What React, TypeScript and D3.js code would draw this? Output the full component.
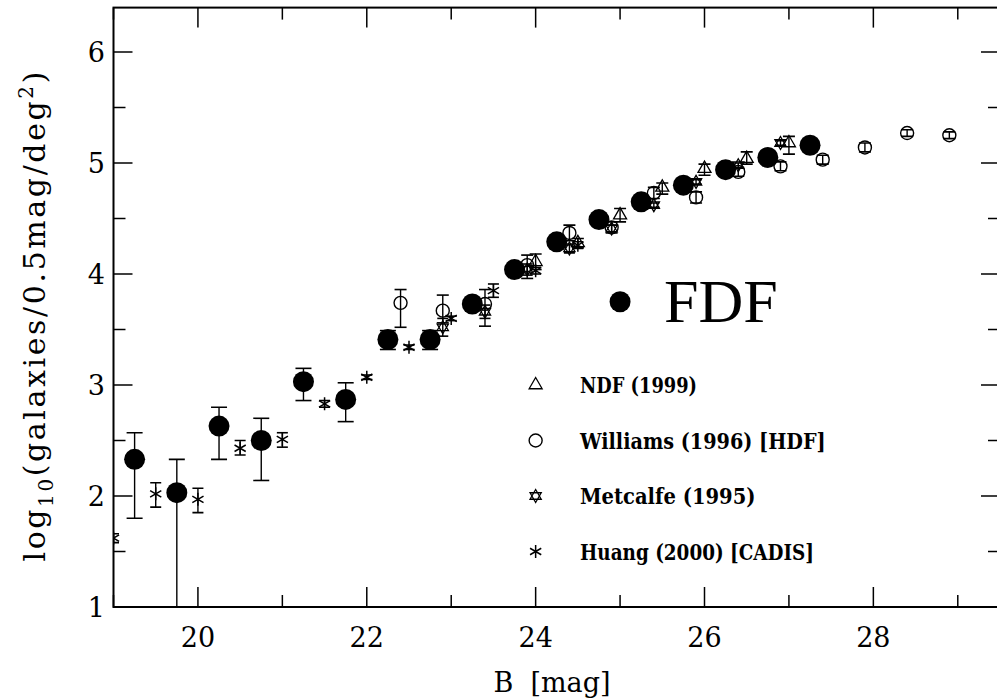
import React from 'react'
import * as d3 from 'd3'

// FDF (filled circles)
const fdfB = [19.25, 19.75, 20.25, 20.75, 21.25, 21.75, 22.25, 22.75, 23.25, 23.75, 24.25, 24.75, 25.25, 25.75, 26.25, 26.75, 27.25]
const fdfLogN = [2.33, 2.03, 2.63, 2.5, 3.03, 2.87, 3.41, 3.41, 3.73, 4.04, 4.29, 4.49, 4.65, 4.8, 4.94, 5.05, 5.16]
const fdfHi = [2.57, 2.33, 2.8, 2.7, 3.15, 3.02, 3.49, 3.49, 3.77, 4.07, 4.31, 4.51, 4.67, 4.82, 4.96, 5.07, 5.18]
const fdfLo = [1.8, 0.5, 2.33, 2.14, 2.86, 2.67, 3.32, 3.32, 3.69, 4.01, 4.27, 4.47, 4.63, 4.78, 4.92, 5.03, 5.14]

// Williams (1996) [HDF]
const wilB = [22.4, 22.9, 23.4, 23.9, 24.4, 24.9, 25.4, 25.9, 26.4, 26.9, 27.4, 27.9, 28.4, 28.9]
const wilLogN = [3.74, 3.67, 3.73, 4.08, 4.37, 4.42, 4.73, 4.69, 4.92, 4.97, 5.03, 5.14, 5.27, 5.25]
const wilHi = [3.86, 3.81, 3.86, 4.17, 4.44, 4.47, 4.78, 4.74, 4.96, 5.01, 5.07, 5.18, 5.3, 5.28]
const wilLo = [3.52, 3.56, 3.53, 3.96, 4.3, 4.37, 4.68, 4.64, 4.88, 4.93, 4.99, 5.1, 5.24, 5.22]

// NDF (1999)
const ndfB = [24.0, 24.5, 25.0, 25.5, 26.0, 26.5, 27.0]
const ndfLogN = [4.11, 4.28, 4.53, 4.78, 4.95, 5.04, 5.18]
const ndfHi = [4.18, 4.32, 4.59, 4.82, 4.99, 5.1, 5.24]
const ndfLo = [4.04, 4.24, 4.47, 4.72, 4.89, 4.99, 5.08]

// Metcalfe (1995)
const metB = [22.9, 23.4, 23.9, 24.4, 24.9, 25.4, 25.9, 26.4, 26.9]
const metLogN = [3.52, 3.66, 4.04, 4.23, 4.41, 4.62, 4.83, 4.98, 5.18]
const metHi = [3.6, 3.72, 4.09, 4.27, 4.44, 4.64, 4.85, 5.0, 5.2]
const metLo = [3.44, 3.6, 3.99, 4.19, 4.38, 4.6, 4.81, 4.96, 5.16]

// Huang (2000) [CADIS]
const huaB = [19.0, 19.5, 20.0, 20.5, 21.0, 21.5, 22.0, 22.5, 23.0, 23.5, 24.0, 24.5]
const huaLogN = [1.62, 2.02, 1.97, 2.43, 2.51, 2.83, 3.07, 3.34, 3.6, 3.85, 4.03, 4.26]
const huaHi = [1.66, 2.12, 2.07, 2.5, 2.57, 2.86, 3.09, 3.36, 3.62, 3.91, 4.06, 4.29]
const huaLo = [1.58, 1.9, 1.85, 2.37, 2.44, 2.8, 3.05, 3.32, 3.58, 3.79, 4.0, 4.23]

const xMajor = [20, 22, 24, 26, 28]
const yMajor = [1, 2, 3, 4, 5, 6]

const legendNames = ['NDF (1999)', 'Williams (1996) [HDF]', 'Metcalfe (1995)', 'Huang (2000) [CADIS]']
const legendY = [3.0, 2.5, 2.0, 1.5]

const W = 997
const H = 700
const x = d3.scaleLinear().domain([19, 29.5]).range([113.5, 1000])
const y = d3.scaleLinear().domain([1, 6.4]).range([607, 7.6])

const triPath = 'M0,-7.5L6.5,3.75L-6.5,3.75Z'
const starPath = 'M0,-6.5L5.6,3.25L-5.6,3.25ZM0,6.5L5.6,-3.25L-5.6,-3.25Z'
const astPath = 'M0,-6.5V6.5M-5.6,-3.25L5.6,3.25M-5.6,3.25L5.6,-3.25'

function Marker({ kind }: { kind: string }) {
  if (kind === 'fdf') return <circle r={10.5} fill="#000" />
  if (kind === 'wil') return <circle r={6.5} fill="none" stroke="#000" strokeWidth={1.4} />
  if (kind === 'ndf') return <path d={triPath} fill="none" stroke="#000" strokeWidth={1.3} />
  if (kind === 'met') return <path d={starPath} fill="none" stroke="#000" strokeWidth={1.3} />
  return <path d={astPath} fill="none" stroke="#000" strokeWidth={1.5} />
}

function Series({ kind, bs, vs, hi, lo, cap }: { kind: string; bs: number[]; vs: number[]; hi: number[]; lo: number[]; cap: number }) {
  return (
    <g>
      {bs.map((b, i) => (
        <g key={i}>
          <line x1={x(b)} x2={x(b)} y1={y(hi[i])} y2={y(lo[i])} stroke="#000" strokeWidth={1.4} />
          <line x1={x(b) - cap} x2={x(b) + cap} y1={y(hi[i])} y2={y(hi[i])} stroke="#000" strokeWidth={1.6} />
          <line x1={x(b) - cap} x2={x(b) + cap} y1={y(lo[i])} y2={y(lo[i])} stroke="#000" strokeWidth={1.6} />
          <g transform={`translate(${x(b)},${y(vs[i])})`}>
            <Marker kind={kind} />
          </g>
        </g>
      ))}
    </g>
  )
}

export default function App() {
  const [x0, x1] = x.range()
  const [y0, y1] = y.range()
  const xMinor = d3.range(19, 29.6, 1).filter((v) => !xMajor.includes(v))
  const yMinor = d3.range(1.5, 6.45, 1)
  const font = 'DejaVu Serif'
  const legendKinds = ['ndf', 'wil', 'met', 'hua']
  return (
    <svg width={W} height={H} style={{ position: 'absolute', left: 0, top: 0, background: '#fff' }}>
      <defs>
        <clipPath id="plot">
          <rect x={x0} y={y1} width={x1 - x0} height={y0 - y1} />
        </clipPath>
      </defs>
      <rect width={W} height={H} fill="#fff" />
      <g clipPath="url(#plot)">
        <Series kind="hua" bs={huaB} vs={huaLogN} hi={huaHi} lo={huaLo} cap={5.5} />
        <Series kind="met" bs={metB} vs={metLogN} hi={metHi} lo={metLo} cap={5.5} />
        <Series kind="ndf" bs={ndfB} vs={ndfLogN} hi={ndfHi} lo={ndfLo} cap={6} />
        <Series kind="wil" bs={wilB} vs={wilLogN} hi={wilHi} lo={wilLo} cap={6} />
        <Series kind="fdf" bs={fdfB} vs={fdfLogN} hi={fdfHi} lo={fdfLo} cap={8} />
      </g>

      {/* frame and ticks */}
      <rect x={x0} y={y1} width={x1 - x0} height={y0 - y1} fill="none" stroke="#000" strokeWidth={2} />
      {xMajor.map((v) => (
        <g key={'xM' + v} stroke="#000" strokeWidth={1.5}>
          <line x1={x(v)} x2={x(v)} y1={y0} y2={y0 - 20} />
          <line x1={x(v)} x2={x(v)} y1={y1} y2={y1 + 20} />
        </g>
      ))}
      {xMinor.map((v) => (
        <g key={'xm' + v} stroke="#000" strokeWidth={1.5}>
          <line x1={x(v)} x2={x(v)} y1={y0} y2={y0 - 12} />
          <line x1={x(v)} x2={x(v)} y1={y1} y2={y1 + 12} />
        </g>
      ))}
      {yMajor.map((v) => (
        <g key={'yM' + v} stroke="#000" strokeWidth={1.5}>
          <line x1={x0} x2={x0 + 19} y1={y(v)} y2={y(v)} />
          <line x1={x1} x2={x1 - 19} y1={y(v)} y2={y(v)} />
        </g>
      ))}
      {yMinor.map((v) => (
        <g key={'ym' + v} stroke="#000" strokeWidth={1.5}>
          <line x1={x0} x2={x0 + 12} y1={y(v)} y2={y(v)} />
          <line x1={x1} x2={x1 - 12} y1={y(v)} y2={y(v)} />
        </g>
      ))}

      {/* tick labels */}
      {xMajor.map((v) => (
        <text key={'xl' + v} x={x(v)} y={647} textAnchor="middle" fontFamily={font} fontSize={27}>
          {v}
        </text>
      ))}
      {yMajor.map((v) => (
        <text key={'yl' + v} x={105} y={y(v) + 10} textAnchor="end" fontFamily={font} fontSize={27}>
          {v}
        </text>
      ))}

      <text x={552} y={692} textAnchor="middle" fontFamily={font} fontSize={27}>
        {'B\u00a0\u00a0[mag]'}
      </text>
      <text
        transform={`translate(45,${(y0 + y1) / 2 + 8}) rotate(-90)`}
        textAnchor="middle"
        fontFamily={font}
        fontSize={30}
        letterSpacing={2.6}
      >
        log<tspan fontSize={20} dy={8}>10</tspan>
        <tspan dy={-8}>(galaxies/0.5mag/deg</tspan>
        <tspan fontSize={20} dy={-12}>2</tspan>
        <tspan dy={12}>)</tspan>
      </text>

      {/* FDF label */}
      <g transform={`translate(${x(25.0)},${y(3.75)})`}>
        <Marker kind="fdf" />
      </g>
      <text x={664} y={322} fontFamily="Liberation Serif" fontSize={62}>
        FDF
      </text>

      {/* legend */}
      {legendNames.map((name, i) => (
        <g key={name}>
          <g transform={`translate(${x(24.0)},${y(legendY[i])})`}>
            <Marker kind={legendKinds[i]} />
          </g>
          <text
            x={580}
            y={y(legendY[i]) + 8}
            fontFamily="DejaVu Serif"
            fontWeight="bold"
            fontSize={21.5}
            textLength={name.length * 11.7}
            lengthAdjust="spacingAndGlyphs"
          >
            {name}
          </text>
        </g>
      ))}
    </svg>
  )
}
